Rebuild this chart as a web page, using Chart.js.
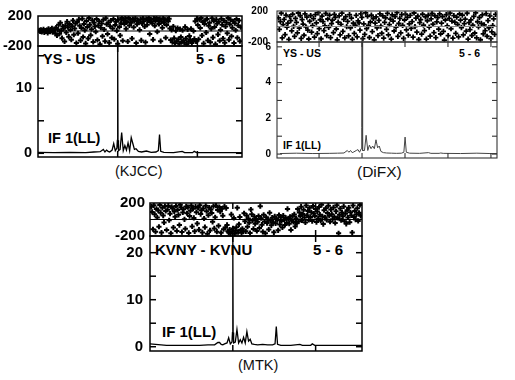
<!DOCTYPE html>
<html><head><meta charset="utf-8">
<script src="https://cdn.jsdelivr.net/npm/chart.js@4"></script>
<style>
html,body{margin:0;padding:0;background:#fff;}
body{width:515px;height:380px;position:relative;overflow:hidden;font-family:'Liberation Sans',Arial,sans-serif;}
canvas{position:absolute;}
.t{position:absolute;white-space:nowrap;font-weight:bold;color:#000;line-height:1;}
.cap{position:absolute;white-space:nowrap;color:#111;line-height:1;}
</style></head><body>
<div class="t" style="left:43px;top:52px;font-size:14.5px;">YS - US</div>
<div class="t" style="left:196px;top:52px;font-size:14.5px;">5 - 6</div>
<div class="t" style="left:48px;top:131px;font-size:14.5px;">IF 1(LL)</div>
<div class="cap" style="left:115px;top:164px;font-size:14.5px;">(KJCC)</div>

<div class="t" style="left:283px;top:48px;font-size:10.5px;">YS - US</div>
<div class="t" style="left:459px;top:48px;font-size:10.5px;">5 - 6</div>
<div class="t" style="left:283px;top:140px;font-size:10.5px;">IF 1(LL)</div>
<div class="cap" style="left:357px;top:164px;font-size:15.5px;">(DiFX)</div>

<div class="t" style="left:155px;top:242px;font-size:15px;">KVNY - KVNU</div>
<div class="t" style="left:313px;top:242px;font-size:15px;">5 - 6</div>
<div class="t" style="left:162px;top:324px;font-size:15px;">IF 1(LL)</div>
<div class="cap" style="left:238px;top:358px;font-size:14.5px;">(MTK)</div>
<script>
// ================= DATA =================
// delay/lag channel positions of the amplitude spectra
const ampChannels = [0,20,40,60,70,78,82,84,86,88,90,93,95,97,99,99.6,100,100.4,101,103,105,107,109,111,113,115,117,119,121,123,126,130,136,142,148,151,152.5,154,158,170,181,184,194,196,199,220,240,256,265];
const ampKJCC = [0.15,0.1,0.15,0.1,0.2,0.25,0.6,0.2,0.5,0.3,
  0.2,0.5,1.5,0.4,0.8,2.0,16.4,2.0,0.4,0.6,
  3.2,0.4,1.2,0.5,1.6,0.4,2.4,1.5,0.6,0.7,
  0.3,0.2,0.35,0.15,0.2,0.4,2.9,0.3,0.15,0.1,
  0.3,0.1,0.1,0.3,0.1,0.1,0.1,0.1,0.1];
const ampDiFX = [0.03,0.05,0.03,0.04,0.05,0.06,0.2,0.1,0.2,0.08,
  0.12,0.2,0.25,0.1,0.3,1.5,6.3,1.2,0.2,0.2,
  1.05,0.2,0.5,0.3,0.45,0.3,0.8,0.35,0.45,0.15,
  0.08,0.06,0.05,0.04,0.05,0.1,0.95,0.1,0.05,0.04,
  0.08,0.04,0.04,0.06,0.04,0.03,0.05,0.03,0.03];
const ampMTK = [0.6,0.3,0.3,0.3,0.4,0.4,0.9,0.9,0.5,0.4,
  0.6,0.8,1.9,0.6,1.0,3.0,23.6,3.0,0.8,1.0,
  3.7,0.8,1.5,0.8,2.0,0.8,3.2,1.2,1.6,0.6,
  0.5,0.4,0.5,0.4,0.4,0.6,4.3,0.5,0.3,0.3,
  0.5,0.3,0.3,0.6,0.3,0.3,0.3,0.3,0.3];

// fringe phase (deg) per frequency channel
const phaseKJCC = [8,-5,15,-12,3,22,-18,6,-2,12,-25,30,0,-8,18,35,-15,10,25,-30,
  45,-60,20,85,-35,110,5,-95,60,30,-140,75,-20,125,50,-75,95,15,-115,65,140,-50,35,100,-160,
  120,-30,155,70,-125,40,165,-80,95,10,-165,135,55,-100,175,85,-55,25,145,-145,110,60,-10,160,-120,75,130,-175,45,100,-70,150,20,-135,170,90,-40,115,-155,65,140,-90,35,160,-110,80,125,5,-170,150,55,-60,105,175,-130,
  140,95,165,30,120,-140,175,75,150,110,-100,160,50,135,170,-160,90,145,115,15,155,-125,100,170,130,60,-150,160,85,140,175,-40,120,150,105,-115,165,70,135,175,-10,145,95,160,-135,125,45,170,110,150,-90,80,155,130,165,
  35,-120,15,-150,60,-95,-160,5,-135,40,-110,-170,25,-80,-145,10,-125,-155,55,-100,-175,20,-140,-65,-115,30,-160,-130,0,-105,
  130,-140,165,80,-110,150,40,175,-60,120,-165,95,145,-20,160,-125,70,110,-150,30,170,-85,135,55,-175,155,100,-45,125,-130,15,165,85,-100,140,-155,60,115,-30,175,-115,90,150,-70,45,130,-160,105,10,160,-90,75,140,-135,50];
const phaseDiFX = [112,-37,64,171,-148,23,91,-104,147,-8,43,-166,128,77,-57,158,2,-127,106,53,
  -83,174,-22,139,-152,88,31,-113,163,-3,122,-47,-161,68,142,-72,12,101,-137,153,
  47,-93,178,-27,87,-158,133,62,-52,8,168,-118,97,-12,148,-143,37,82,-78,157,
  117,-32,-172,57,137,-108,27,173,-62,93,-147,127,-2,67,-122,152,-17,107,-167,42,
  -88,18,143,-133,72,48,-48,162,118,-157,33,-102,176,-28,132,13,-142,58,148,-67,
  103,-173,44,124,-18,-118,78,163,4,-87,138,-151,54,113,-38,169,-107,24,94,-163,
  149,69,-58,129,-7,179,-128,39,104,-82,154,14,-153,84,159,-43,119,-112,34,144,
  -23,63,-138,174,-1,109,-73,134,-168,49,89,-98,158,19,-53,123,-162,74,147,-9,
  -124,99,168,29,-79,139,-144,59,114,-33,164,-97,44,129,-63,-176,84,154,9,-119,
  106,172,-29,69,-149,141,56,-89,121,26,-134,161,81,-14,146,-109,36,96,-59,171,
  -164,51,-41,86,-116,16,131,-84,176,-146,61,-6,116,-171,41,151,-94,21,-54,166,
  -126,76,-19,136,-156,-69,11,98,-101,156];
const phaseMTK = [155,92,-118,172,63,-147,128,24,113,-88,176,81,-158,142,47,-36,161,103,-127,118,
  168,-9,71,-168,153,136,-98,97,33,164,-138,116,57,-68,179,146,-152,86,124,2,
  -113,159,76,149,-163,41,107,171,-84,131,19,-143,156,89,-49,141,-123,174,66,111,
  -157,134,12,-93,166,101,-172,52,144,-133,121,79,-28,162,-108,27,169,-148,116,-77,
  151,96,-162,129,46,-118,157,-98,138,-66,
  -141,-158,-123,-169,61,-149,-108,18,-174,-133,-93,141,-154,-58,31,-128,-161,-112,-146,76,
  -22,-143,48,-88,11,-38,-164,121,63,-12,-114,36,-53,6,-138,-28,41,-103,161,16,
  -63,-149,57,-24,-168,26,-43,1,-121,81,-16,-71,22,-33,-156,37,-48,12,-8,-131,
  54,-61,27,-18,-96,46,-3,-66,19,-39,128,8,-51,33,-126,-14,44,-29,62,-84,14,-44,
  126,-23,86,41,156,-11,66,118,23,-36,171,51,104,-6,141,31,88,-19,163,72,
  43,128,-31,96,11,151,58,-14,178,37,-56,112,27,136,-4,79,167,46,-26,121,
  64,2,146,33,-42,99,174,18,-168,57,132,-9,84,38,158,-21,71,-52,113,24,
  143,-33,88,49,-158,169,29,104,-1,62,137,-17,81,176,44];

// tick values
const phaseTickLabels = [-200, 200];
const kjccAmpLabels = [0, 10];
const kjccAmpTicks = [0, 5, 10, 15];
const difxAmpLabels = [0, 2, 4, 6];
const difxAmpTicks = [0, 1, 2, 3, 4, 5, 6];
const mtkAmpLabels = [0, 10, 20];
const mtkAmpTicks = [0, 5, 10, 15, 20];
const kjccXTicks = [100, 200];
const difxXTicks = [47.6, 100, 152.4, 204.8, 257.2];
const mtkXTicks = [100, 200];

// ================= DRAWING =================
const FONT = "'Liberation Sans', Arial, sans-serif";
const AXW = 40, PADT = 24, PADB = 24, PADR = 6;

function addCanvas(l, t, w, h) {
  const c = document.createElement('canvas');
  c.width = w; c.height = h;
  c.style.cssText = `left:${l}px;top:${t}px;width:${w}px;height:${h}px;`;
  document.body.appendChild(c);
  return c;
}

function framePlugin(o) {
  return {
    id: 'frame',
    afterDatasetsDraw(chart) {
      const {ctx, chartArea: a, scales} = chart;
      const ln = (x1, y1, x2, y2) => { ctx.beginPath(); ctx.moveTo(x1, y1); ctx.lineTo(x2, y2); ctx.stroke(); };
      ctx.save();
      if (o.midLine) {
        const y = scales.y.getPixelForValue(0);
        ctx.strokeStyle = o.midColor; ctx.lineWidth = o.midLw;
        ln(a.left, y, a.right, y);
      }
      ctx.strokeStyle = o.color; ctx.lineWidth = o.lw;
      for (const v of (o.yTicks || [])) {
        const y = scales.y.getPixelForValue(v);
        ln(a.left, y, a.left + o.tl, y);
        ln(a.right - o.tl, y, a.right, y);
      }
      for (const v of o.xTicks) {
        const x = o.xFromFrac ? a.left + (v - o.xMin) / (o.xMax - o.xMin) * (a.right - a.left) : scales.x.getPixelForValue(v);
        ln(x, a.top, x, a.top + o.tl);
        ln(x, a.bottom - o.tl, x, a.bottom);
      }
      ctx.strokeRect(a.left, a.top, a.right - a.left, a.bottom - a.top);
      ctx.restore();
    }
  };
}

function yAxis(min, max, labels, pad, fs) {
  return {
    min, max,
    afterFit(s) { s.width = AXW; },
    afterBuildTicks(s) { s.ticks = labels.map(v => ({value: v})); },
    grid: {display: false, drawTicks: false},
    border: {display: false},
    ticks: {autoSkip: false, padding: pad, color: '#000', font: {family: FONT, size: fs, weight: 'bold'}, callback: v => String(v)}
  };
}

function phaseChart(p, values, st) {
  const c = addCanvas(p.l - AXW, p.pt - PADT, AXW + (p.r - p.l) + PADR, PADT + (p.pb - p.pt) + PADB);
  new Chart(c, {
    type: 'scatter',
    data: {datasets: [{
      data: values.map((v, i) => ({x: i, y: v})),
      pointStyle: 'cross', pointRadius: st.pr, borderWidth: st.pbw, pointBorderWidth: st.pbw,
      borderColor: st.pc, backgroundColor: st.pc, showLine: false
    }]},
    options: {
      responsive: false, animation: false, devicePixelRatio: 1,
      layout: {padding: {top: PADT, bottom: PADB, right: PADR, left: 0}},
      plugins: {legend: {display: false}, tooltip: {enabled: false}},
      scales: {
        x: {type: 'linear', display: false, min: -1.5, max: values.length + 0.5},
        y: yAxis(-200, 200, phaseTickLabels, st.phasePad, st.fs)
      }
    },
    plugins: [framePlugin({midLine: true, midColor: st.midColor, midLw: 1, color: st.frameColor, lw: st.lw, tl: st.tl,
      xTicks: st.xTicks, xFromFrac: true, xMin: st.xMin, xMax: st.xMax})]
  });
}

function ampChart(p, values, st) {
  const c = addCanvas(p.l - AXW, p.pb - PADT, AXW + (p.r - p.l) + PADR, PADT + (p.ab - p.pb) + PADB);
  new Chart(c, {
    type: 'line',
    data: {datasets: [{
      data: ampChannels.map((x, i) => ({x, y: values[i]})),
      borderColor: st.lineColor, borderWidth: st.lineW, pointRadius: 0, tension: 0, fill: false
    }]},
    options: {
      responsive: false, animation: false, devicePixelRatio: 1,
      layout: {padding: {top: PADT, bottom: PADB, right: PADR, left: 0}},
      plugins: {legend: {display: false}, tooltip: {enabled: false}},
      scales: {
        x: {type: 'linear', display: false, min: st.xMin, max: st.xMax},
        y: yAxis(st.yMin, st.yMax, st.labels, st.ampPad, st.fs)
      }
    },
    plugins: [framePlugin({color: st.frameColor, lw: st.lw, tl: st.tl, yTicks: st.yTicks, xTicks: st.xTicks})]
  });
}

// KJCC
const kj = {l: 38, r: 242, pt: 16, pb: 46, ab: 157};
phaseChart(kj, phaseKJCC, {pr: 2.6, pbw: 2, pc: '#000', fs: 14.5, phasePad: 6, midColor: '#000', frameColor: '#000', lw: 1.5, tl: 6, xTicks: kjccXTicks, xMin: 0, xMax: 256});
ampChart(kj, ampKJCC, {lineColor: '#000', lineW: 1.3, xMin: 0, xMax: 256, yMin: -0.57, yMax: 16.5, labels: kjccAmpLabels, yTicks: kjccAmpTicks, xTicks: kjccXTicks, ampPad: 6, fs: 14.5, frameColor: '#000', lw: 1.5, tl: 6});

// DiFX
const dx = {l: 277, r: 497, pt: 11, pb: 42, ab: 158};
phaseChart(dx, phaseDiFX, {pr: 2.6, pbw: 1.8, pc: '#000', fs: 10, phasePad: 9, midColor: '#888', frameColor: '#333', lw: 1.1, tl: 5, xTicks: difxXTicks, xMin: -3.7, xMax: 264.6});
ampChart(dx, ampDiFX, {lineColor: '#444', lineW: 1, xMin: -3.7, xMax: 264.6, yMin: -0.22, yMax: 6.27, labels: difxAmpLabels, yTicks: difxAmpTicks, xTicks: difxXTicks, ampPad: 6, fs: 10, frameColor: '#333', lw: 1.1, tl: 5});

// MTK
const mt = {l: 150, r: 362, pt: 203, pb: 236, ab: 351};
phaseChart(mt, phaseMTK, {pr: 2.6, pbw: 2, pc: '#000', fs: 15, phasePad: 5, midColor: '#000', frameColor: '#000', lw: 1.5, tl: 6, xTicks: mtkXTicks, xMin: 0, xMax: 256});
ampChart(mt, ampMTK, {lineColor: '#000', lineW: 1.3, xMin: 0, xMax: 256, yMin: -0.91, yMax: 23.55, labels: mtkAmpLabels, yTicks: mtkAmpTicks, xTicks: mtkXTicks, ampPad: 7, fs: 15, frameColor: '#000', lw: 1.5, tl: 6});
</script>
</body></html>
